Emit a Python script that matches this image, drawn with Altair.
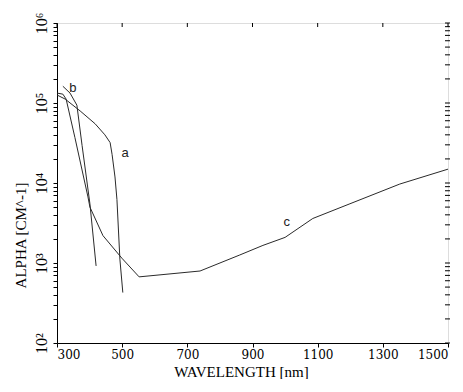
import altair as alt
import pandas as pd

# curve a
a_nm = [300, 325, 371, 417, 447, 463, 469, 478, 484, 493, 502]
a_alpha = [1.26e5, 1.12e5, 7.96e4, 5.5e4, 4.0e4, 3.2e4, 2.28e4, 1.19e4, 6.2e3, 1.12e3, 427]
# curve b
b_nm = [318, 340, 361, 377, 401, 420]
b_alpha = [1.62e5, 1.33e5, 9.4e4, 2.94e4, 5.5e3, 919]
# curve c
c_nm = [300, 318, 328, 355, 395, 401, 441, 499, 552, 739, 861, 932, 1000, 1085, 1199, 1352, 1500]
c_alpha = [1.33e5, 1.29e5, 1.12e5, 3.7e4, 6.7e3, 5.0e3, 2.2e3, 1.15e3, 671, 794, 1260, 1660, 2090, 3600, 5500, 9700, 1.49e4]

# curve labels
lab_text = ["a", "b", "c"]
lab_nm = [509, 349, 1005]
lab_alpha = [2.4e4, 1.53e5, 3.3e3]

x_ticks = [300, 500, 700, 900, 1100, 1300, 1500]
y_ticks = [m * 10 ** e for e in range(2, 6) for m in range(1, 10)] + [1000000]

rows = []
for name, xs, ys in (("a", a_nm, a_alpha), ("b", b_nm, b_alpha), ("c", c_nm, c_alpha)):
    for i, (x, y) in enumerate(zip(xs, ys)):
        rows.append({"s": name, "nm": x, "alpha": y, "o": i})
df = pd.DataFrame(rows)
labels = pd.DataFrame({"t": lab_text, "nm": lab_nm, "alpha": lab_alpha})
xt = pd.DataFrame({"nm": x_ticks})
yt = pd.DataFrame({"alpha": y_ticks})

W, H = 391, 320
xscale = alt.Scale(domain=[300, 1500], nice=False, zero=False)
yscale = alt.Scale(type="log", domain=[100, 1000000], nice=False)

label_expr = ("datum.value==100?'10²':datum.value==1000?'10³':datum.value==10000?'10⁴':"
              "datum.value==100000?'10⁵':datum.value==1000000?'10⁶':''")

LF = "Liberation Serif"
xaxis = alt.Axis(values=x_ticks, format="d", title="WAVELENGTH  [nm]", grid=False, tickSize=4,
                 labelFont="DejaVu Serif", labelFontSize=12, labelColor="black",
                 titleFont=LF, titleFontSize=15, titleFontWeight="normal",
                 titleColor="black", titleX=184, titleY=33, titleBaseline="alphabetic",
                 labelPadding=2, domainColor="black",
                 tickColor="black", labelFlush=True)
yaxis = alt.Axis(values=y_ticks, labelExpr=label_expr, title="ALPHA  [CM^-1]", grid=False,
                 tickSize=4, labelAngle=-90, labelAlign="center", labelBaseline="bottom",
                 labelFont=LF, labelFontSize=16, labelColor="black",
                 titleFont=LF, titleFontSize=15, titleFontWeight="normal",
                 titleColor="black", titleX=-37, titleY=212, titleBaseline="middle",
                 labelPadding=4, domainColor="black", tickColor="black", labelFlush=False,
                 labelOverlap=False)

lines = alt.Chart(df).mark_line(color="#2a2a2a", strokeWidth=1).encode(
    x=alt.X("nm:Q", scale=xscale, axis=xaxis),
    y=alt.Y("alpha:Q", scale=yscale, axis=yaxis),
    detail="s:N",
    order="o:Q",
)

text = alt.Chart(labels).mark_text(font="Liberation Sans", fontSize=13, color="#222").encode(
    x=alt.X("nm:Q", scale=xscale), y=alt.Y("alpha:Q", scale=yscale), text="t:N")

top_ticks = alt.Chart(xt).mark_rule(color="black", strokeWidth=1).encode(
    x=alt.X("nm:Q", scale=xscale), y=alt.value(0), y2=alt.value(4))
right_ticks = alt.Chart(yt).mark_rule(color="black", strokeWidth=1).encode(
    y=alt.Y("alpha:Q", scale=yscale), x=alt.value(W - 3), x2=alt.value(W + 2))

chart = alt.layer(lines, text, top_ticks, right_ticks).properties(
    width=W, height=H,
    autosize=alt.AutoSizeParams(type="none"),
    padding={"left": 49, "top": 15, "right": 7, "bottom": 36},
).configure_view(stroke="black", strokeWidth=1).configure(background="white")

chart.save("out.html", embed_options={"renderer": "svg", "actions": False})
